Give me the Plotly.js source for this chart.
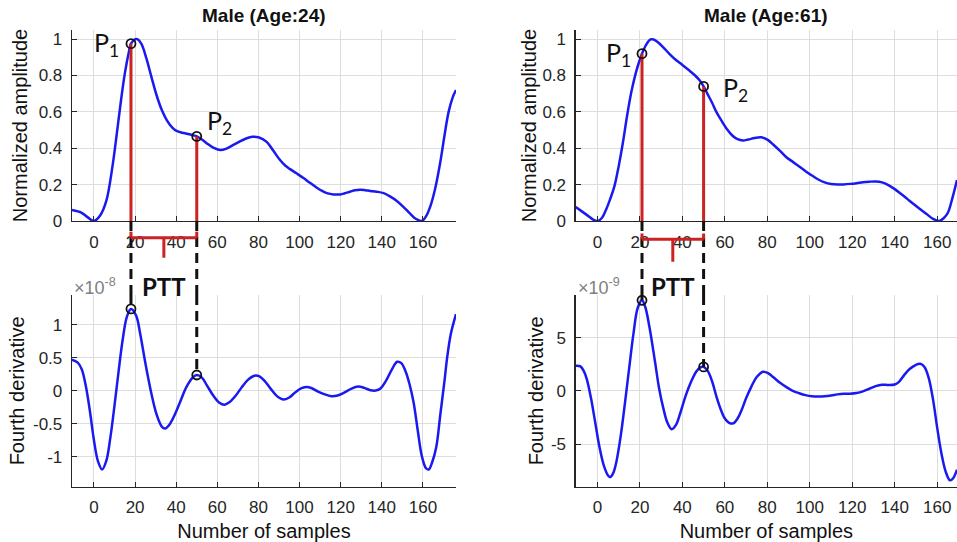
<!DOCTYPE html>
<html><head><meta charset="utf-8">
<script src="https://cdn.plot.ly/plotly-3.0.1.min.js"></script>
<style>html,body{margin:0;padding:0;background:#fff;overflow:hidden}#chart{width:957px;height:542px}</style>
</head><body><div id="chart"></div>
<script>
// ---------- DATA ----------
// Male, age 24 : normalized PPG amplitude
const samplesAmp24 = [-10.7,-6,-3,0,3,6,9,11,13,15,17,18,20.8,23,25.6,28,30.5,33,35.4,38,40.2,43,45.1,48,50,52.5,54.8,58,61.3,64.5,67.8,71,74.3,77,80,84,87,90.5,93,95.4,98.5,101.9,105,108.4,111,113.3,116.5,119.8,122,124.6,127,129.5,132,134.4,137.5,140.9,144,147.3,150.5,153.8,156.5,159.5,161.5,163.6,166,168.4,170.5,172.5,174.5,176.1];
const amp24 = [0.06,0.045,0.02,0.0,0.03,0.11,0.30,0.47,0.65,0.81,0.93,0.975,1.0,0.975,0.89,0.79,0.69,0.61,0.555,0.515,0.495,0.485,0.48,0.472,0.465,0.448,0.428,0.403,0.39,0.398,0.418,0.438,0.455,0.463,0.46,0.435,0.39,0.335,0.305,0.285,0.262,0.236,0.21,0.183,0.165,0.153,0.146,0.146,0.152,0.161,0.169,0.172,0.169,0.165,0.161,0.153,0.135,0.11,0.078,0.04,0.012,0.0,0.025,0.08,0.18,0.32,0.47,0.6,0.68,0.72];
// Male, age 24 : fourth derivative (x 1e-8)
const samplesD4_24 = [-10.7,-8,-6,-4,-2,0,2,4,6,8,10,12,14,16,18,20.5,22.5,25,28,30.5,33,34.6,36.5,39,42,45,48,50,52.5,55,58,61,63.5,66,69,72,75,78,80.5,83,86,89,92,95,98,101,103.5,106,109,112,115.5,118.5,121.5,125,128.5,131.5,134.5,137,139.5,142,145,147.5,149.5,151.5,153.5,155.5,157.5,159.5,161.5,162.8,164.5,166.5,168.5,170.5,171.7,173.5,176.1];
const d4_24 = [0.47,0.43,0.33,0.08,-0.3,-0.75,-1.07,-1.19,-1.06,-0.7,-0.22,0.3,0.78,1.12,1.24,1.14,0.86,0.42,-0.05,-0.36,-0.54,-0.57,-0.52,-0.38,-0.16,0.06,0.2,0.24,0.2,0.08,-0.07,-0.18,-0.21,-0.17,-0.07,0.06,0.17,0.23,0.22,0.15,0.03,-0.08,-0.13,-0.1,-0.02,0.04,0.06,0.04,-0.01,-0.05,-0.08,-0.07,-0.03,0.03,0.065,0.045,0.01,0.005,0.04,0.15,0.33,0.44,0.42,0.3,0.1,-0.18,-0.6,-0.99,-1.17,-1.19,-1.08,-0.85,-0.35,0.15,0.48,0.85,1.16];
// Male, age 61 : normalized PPG amplitude
const samplesAmp61 = [-10.2,-7,-4,-2,0,2,4,6,8,10,12,14,16,18,19.5,21,23,25,26.5,28.5,31,34,37,40,43,46,48,50,52,54,56,58.5,61,63.5,66,68.5,71,74,77,80,83,86,89,92,95,98,101,104,107,110,113,116,119,122,125,128,131,134,137,140,143,146,149,152,155,158,161,163,165,167,169.3];
const amp61 = [0.077,0.05,0.025,0.007,0.0,0.015,0.06,0.12,0.19,0.3,0.43,0.58,0.71,0.81,0.87,0.92,0.97,0.998,0.998,0.983,0.955,0.918,0.885,0.858,0.83,0.8,0.775,0.74,0.695,0.65,0.6,0.55,0.505,0.47,0.45,0.443,0.448,0.456,0.46,0.447,0.418,0.385,0.35,0.325,0.3,0.274,0.25,0.228,0.212,0.203,0.2,0.201,0.204,0.208,0.213,0.216,0.217,0.212,0.197,0.175,0.148,0.12,0.092,0.065,0.038,0.012,0.0,0.015,0.045,0.12,0.225];
// Male, age 61 : fourth derivative (x 1e-9)
const samplesD4_61 = [-10.2,-8,-6.5,-5,-3,-1,1,3,5,6,7.5,9,11,13,15,17,19,21,22.5,24.5,27,29,31,33,35,37,39,41.5,44,46.5,48.5,50,52,54,56,58,60,62,64,66,68,70,72.5,75,78,80.5,83,86,89,92,95,98,101,104,107,110,113,116,119,122,125,128,131,134,137,140,142,144.5,147,150,152,154,156,158,160,162,164,166,167.5,169.3];
const d4_61 = [2.35,2.3,1.9,1.1,-0.7,-3.0,-5.3,-7.0,-7.95,-8.1,-7.7,-6.6,-4.2,-1.1,2.2,5.4,7.8,8.5,7.9,6.0,2.9,0.3,-1.6,-3.0,-3.6,-3.2,-2.1,-0.5,0.8,1.8,2.2,2.25,1.85,0.9,-0.5,-1.7,-2.6,-3.0,-3.05,-2.6,-1.75,-0.7,0.4,1.3,1.8,1.65,1.25,0.75,0.35,0.0,-0.22,-0.4,-0.5,-0.52,-0.5,-0.43,-0.33,-0.27,-0.26,-0.2,-0.05,0.2,0.45,0.58,0.55,0.6,0.85,1.5,2.05,2.45,2.55,2.25,1.2,-0.8,-3.5,-5.9,-7.6,-8.4,-8.2,-7.4];
// Marked points P1, P2
const peakSamples24 = [18, 50];
const peakAmp24 = [0.975, 0.465];
const peakD4_24 = [1.24, 0.24];
const peakSamples61 = [21, 50];
const peakAmp61 = [0.92, 0.74];
const peakD4_61 = [8.5, 2.25];
// Ticks
const sampleTicks = [0,20,40,60,80,100,120,140,160];
const ampTicks = [0,0.2,0.4,0.6,0.8,1];
const ampTickText = ['0','0.2','0.4','0.6','0.8','1'];
const d4Ticks24 = [-1,-0.5,0,0.5,1];
const d4TickText24 = ['-1','-0.5','0','0.5','1'];
const d4Ticks61 = [-5,0,5];
const d4TickText61 = ['-5','0','5'];
const titles = ['Male (Age:24)', 'Male (Age:61)'];

// ---------- STYLE ----------
const BLUE = '#1a1af0', RED = '#cc2222', AXC = '#262626';
const tickFont = {family: 'Liberation Sans, Arial, sans-serif', size: 17, color: AXC};
const labFont = {family: 'Liberation Sans, Arial, sans-serif', size: 20, color: '#111'};
const pFont = {family: 'Lato, Open Sans, sans-serif', size: 25, color: '#111'};

const D4TOP24 = 1.45, D4TOP61 = 9;

function xAx(domain, range, anchor, title) {
  const a = {domain, range, anchor, tickvals: sampleTicks, ticktext: sampleTicks.map(String),
    showgrid: true, gridcolor: '#dedede', gridwidth: 1, zeroline: false,
    showline: true, linecolor: AXC, linewidth: 1.3, ticks: 'inside', ticklen: 5, tickcolor: AXC,
    tickfont: tickFont, ticklabelstandoff: 5, automargin: false, fixedrange: true};
  if (title) a.title = {text: title, font: labFont, standoff: 8};
  return a;
}
function yAx(domain, range, anchor, vals, text, title, standoff) {
  return {domain, range, anchor, tickvals: vals, ticktext: text,
    showgrid: true, gridcolor: '#dedede', gridwidth: 1, zeroline: false,
    showline: true, linecolor: AXC, linewidth: 1.3, ticks: 'inside', ticklen: 5, tickcolor: AXC,
    tickfont: tickFont, ticklabelstandoff: 5, automargin: false, fixedrange: true,
    title: {text: title, font: labFont, standoff: standoff}};
}

const XL = [0.0752, 0.4765], XR = [0.6016, 1.0];
const YT = [0.5923, 0.9446], YB = [0.1020, 0.4557];
const RL = [-10.7, 176.1], RR = [-10.2, 169.3];

const curve = (x, y, xa, ya) => ({x, y, xaxis: xa, yaxis: ya, type: 'scatter', mode: 'lines',
  line: {color: BLUE, width: 2.5, shape: 'spline', smoothing: 1}, hoverinfo: 'skip'});
const marks = (x, y, xa, ya) => ({x, y, xaxis: xa, yaxis: ya, type: 'scatter', mode: 'markers',
  marker: {symbol: 'circle-open', size: 9, color: '#111', line: {width: 1.8, color: '#111'}}, hoverinfo: 'skip'});
function stems(xs, ys, base, xa, ya, color, dash) {
  return xs.map((x, i) => ({x: [x, x], y: [base, ys[i]], xaxis: xa, yaxis: ya, type: 'scatter', mode: 'lines',
    line: {color, width: 3, dash: dash || 'solid'}, hoverinfo: 'skip'}));
}

const data = [
  curve(samplesAmp24, amp24, 'x', 'y'),
  ...stems(peakSamples24, peakAmp24, 0, 'x', 'y', RED),
  marks(peakSamples24, peakAmp24, 'x', 'y'),
  curve(samplesD4_24, d4_24, 'x2', 'y2'),
  ...stems(peakSamples24, peakD4_24, D4TOP24, 'x2', 'y2', '#111', '10px,6px'),
  marks(peakSamples24, peakD4_24, 'x2', 'y2'),
  curve(samplesAmp61, amp61, 'x3', 'y3'),
  ...stems(peakSamples61, peakAmp61, 0, 'x3', 'y3', RED),
  marks(peakSamples61, peakAmp61, 'x3', 'y3'),
  curve(samplesD4_61, d4_61, 'x4', 'y4'),
  ...stems(peakSamples61, peakD4_61, D4TOP61, 'x4', 'y4', '#111', '10px,6px'),
  marks(peakSamples61, peakD4_61, 'x4', 'y4'),
];

function bracket(xref, xs, yLine, yEnd, yTick) {
  const mid = (xs[0] + xs[1]) / 2;
  const L = {color: RED, width: 3};
  return [
    {type: 'line', xref, yref: 'paper', x0: xs[0], x1: xs[1], y0: yLine, y1: yLine, line: L},
    {type: 'line', xref, yref: 'paper', x0: xs[0], x1: xs[0], y0: yLine, y1: yEnd, line: L},
    {type: 'line', xref, yref: 'paper', x0: xs[1], x1: xs[1], y0: yLine, y1: yEnd, line: L},
    {type: 'line', xref, yref: 'paper', x0: mid, x1: mid, y0: yLine, y1: yTick, line: L},
  ];
}
function connectors(xref, xs) {
  return xs.map(x => ({type: 'line', xref, yref: 'paper', x0: x, x1: x, y0: YT[0], y1: YB[1],
    line: {color: '#111', width: 3, dash: '10px,6px'}}));
}

const shapes = [
  ...connectors('x', peakSamples24),
  ...connectors('x3', peakSamples61),
  ...bracket('x', peakSamples24, 0.5614, 0.5725, 0.5245),
  ...bracket('x3', peakSamples61, 0.5585, 0.5692, 0.5172),
];

const sub = (t, s) => t + '<sub>' + s + '</sub>';
const titleFont = {family: 'Liberation Sans, Arial, sans-serif', size: 19, color: '#111'};
const annotations = [
  {text: '<b>' + titles[0] + '</b>', xref: 'paper', yref: 'paper', x: (XL[0] + XL[1]) / 2, y: 0.972, xanchor: 'center', yanchor: 'middle', showarrow: false, font: titleFont},
  {text: '<b>' + titles[1] + '</b>', xref: 'paper', yref: 'paper', x: (XR[0] + XR[1]) / 2, y: 0.972, xanchor: 'center', yanchor: 'middle', showarrow: false, font: titleFont},
  {text: sub('P', '1'), xref: 'x', yref: 'y', x: peakSamples24[0], y: peakAmp24[0], xanchor: 'right', xshift: -10, yshift: 0, showarrow: false, font: pFont},
  {text: sub('P', '2'), xref: 'x', yref: 'y', x: peakSamples24[1], y: peakAmp24[1], xanchor: 'left', xshift: 8, yshift: 14, showarrow: false, font: pFont},
  {text: sub('P', '1'), xref: 'x3', yref: 'y3', x: peakSamples61[0], y: peakAmp61[0], xanchor: 'right', xshift: -9, yshift: 0, showarrow: false, font: pFont},
  {text: sub('P', '2'), xref: 'x3', yref: 'y3', x: peakSamples61[1], y: peakAmp61[1], xanchor: 'left', xshift: 17, yshift: -3, showarrow: false, font: pFont},
  {text: '<b>PTT</b>', xref: 'x2', yref: 'paper', x: (peakSamples24[0] + peakSamples24[1]) / 2, y: 0.4723, showarrow: false,
    font: {family: 'Lato, Open Sans, sans-serif', size: 24, color: '#111'}},
  {text: '<b>PTT</b>', xref: 'x4', yref: 'paper', x: (peakSamples61[0] + peakSamples61[1]) / 2, y: 0.4723, showarrow: false,
    font: {family: 'Lato, Open Sans, sans-serif', size: 24, color: '#111'}},
  {text: '×10<sup>-8</sup>', xref: 'paper', yref: 'paper', x: 0.0752, y: 0.4705, xanchor: 'left', showarrow: false,
    font: {family: 'Liberation Sans, Arial, sans-serif', size: 18, color: '#808080'}},
  {text: '×10<sup>-9</sup>', xref: 'paper', yref: 'paper', x: 0.6016, y: 0.4705, xanchor: 'left', showarrow: false,
    font: {family: 'Liberation Sans, Arial, sans-serif', size: 18, color: '#808080'}},
];

const layout = {
  width: 957, height: 542, margin: {l: 0, r: 0, t: 0, b: 0},
  paper_bgcolor: '#fff', plot_bgcolor: '#fff', showlegend: false, hovermode: false,
  xaxis: xAx(XL, RL, 'y'),
  yaxis: yAx(YT, [0, 1.05], 'x', ampTicks, ampTickText, 'Normalized amplitude', 5),
  xaxis2: xAx(XL, RL, 'y2', 'Number of samples'),
  yaxis2: yAx(YB, [-D4TOP24, D4TOP24], 'x2', d4Ticks24, d4TickText24, 'Fourth derivative', 3),
  xaxis3: xAx(XR, RR, 'y3'),
  yaxis3: yAx(YT, [0, 1.05], 'x3', ampTicks, ampTickText, 'Normalized amplitude', 0),
  xaxis4: xAx(XR, RR, 'y4', 'Number of samples'),
  yaxis4: yAx(YB, [-D4TOP61, D4TOP61], 'x4', d4Ticks61, d4TickText61, 'Fourth derivative', 2),
  shapes, annotations,
};

Plotly.newPlot('chart', data, layout, {staticPlot: true, displayModeBar: false});
</script></body></html>
